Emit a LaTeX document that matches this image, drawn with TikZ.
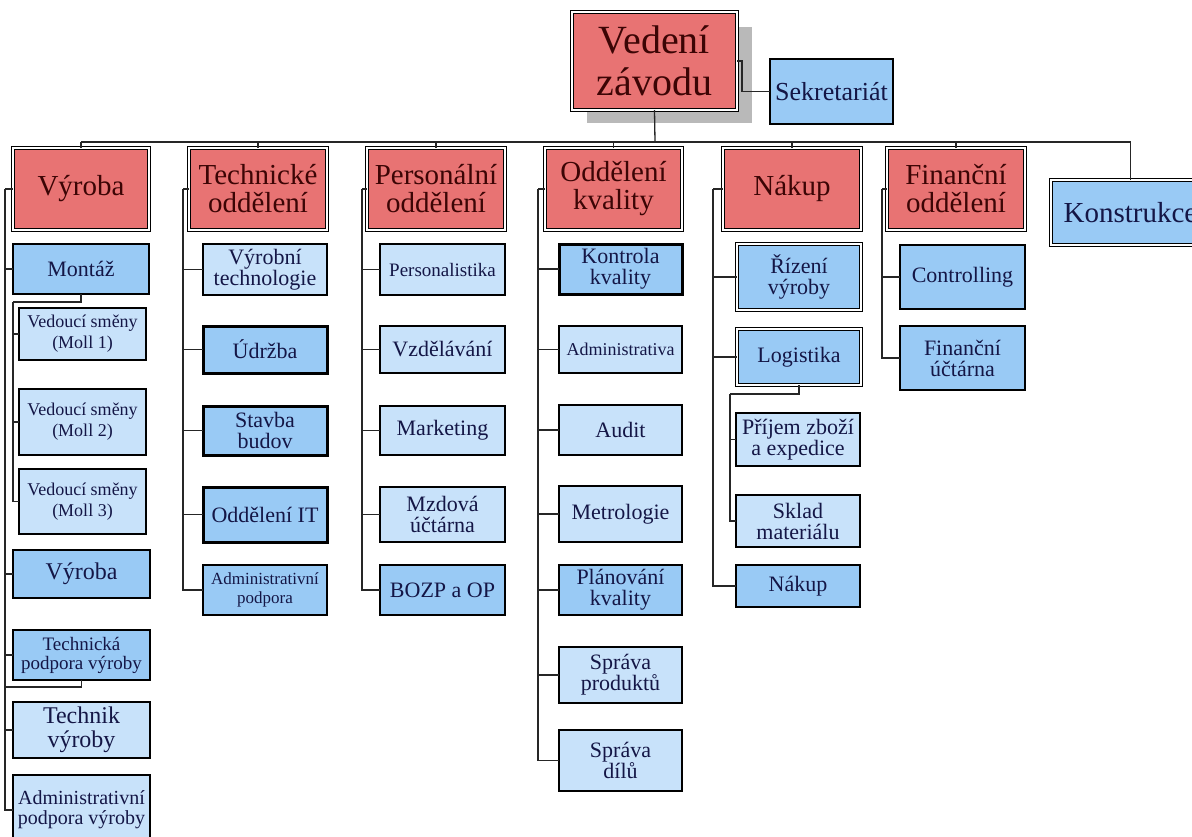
\documentclass[tikz,border=0pt]{standalone}
\usepackage{fontspec}
\setmainfont{Liberation Serif}
\definecolor{redc}{RGB}{232,115,115}
\definecolor{lightb}{RGB}{200,226,250}
\definecolor{medb}{RGB}{153,202,245}
\definecolor{navy}{RGB}{20,22,70}
\definecolor{maroon}{RGB}{60,5,5}
\definecolor{shadowc}{RGB}{185,185,185}
\newcommand\bx[7]{\node[#6, minimum width={(#4)-(#2)}, minimum height={(#5)-(#3)}] (#1) at ({((#2)+(#4))/2},{((#3)+(#5))/2}) {#7};}
\tikzset{
  box/.style={draw=black, line width=1.5pt, inner sep=0pt, outer sep=0pt, align=center, text=navy},
  lb/.style={box, fill=lightb},
  mb/.style={box, fill=medb},
  thickb/.style={line width=3pt},
  dbl/.style={line width=1.2pt, double=white, double distance=1.6pt},
  rb/.style={box, dbl, fill=redc, text=maroon, font=\fontsize{29}{28}\selectfont},
  fA/.style={font=\fontsize{18}{21}\selectfont},
  fB/.style={font=\fontsize{20}{20}\selectfont},
  fC/.style={font=\fontsize{22}{21}\selectfont},
  fD/.style={font=\fontsize{24}{24}\selectfont},
  conn/.style={draw=black!85, line width=1.3pt},
}
\begin{document}
\begin{tikzpicture}[x=1pt,y=-1pt]
\useasboundingbox (0,0) rectangle (1192,836);
\fill[white] (0,0) rectangle (1192,836);
% top
\fill[shadowc] (587,27) rectangle (752,123);
\bx{vz}{572}{12}{737}{110}{rb, font=\fontsize{40}{42}\selectfont}{Vedení\\závodu}
\bx{sek}{770}{59}{893}{124}{mb, font=\fontsize{26}{26}\selectfont}{Sekretariát}
% level 1
\bx{vyr}{13}{148}{149}{230}{rb}{Výroba}
\bx{tech}{189}{148}{327}{230}{rb}{Technické\\oddělení}
\bx{pers}{367}{148}{505}{230}{rb}{Personální\\oddělení}
\bx{kval}{545}{148}{682}{230}{rb}{Oddělení\\kvality}
\bx{nak}{723}{148}{861}{230}{rb}{Nákup}
\bx{fin}{887}{148}{1025}{230}{rb}{Finanční\\oddělení}
\bx{kon}{1051}{180}{1210}{245}{mb, dbl, font=\fontsize{29}{28}\selectfont}{Konstrukce}
% Vyroba column
\bx{montaz}{13}{244}{149}{294}{mb, fC}{Montáž}
\bx{mA}{19}{308}{146}{360}{lb, fA}{Vedoucí směny\\(Moll 1)}
\bx{mB}{19}{389}{146}{455}{lb, fA}{Vedoucí směny\\(Moll 2)}
\bx{mC}{19}{469}{146}{534}{lb, fA}{Vedoucí směny\\(Moll 3)}
\bx{vyrB}{13}{550}{150}{598}{mb, fD}{Výroba}
\bx{tp}{13}{630}{150}{680}{mb, font=\fontsize{19}{19}\selectfont}{Technická\\podpora výroby}
\bx{tv}{13}{702}{150}{758}{lb, fD}{Technik\\výroby}
\bx{apv}{13}{775}{150}{845}{lb, fB}{Administrativní\\podpora výroby}
% Technicke column
\bx{vt}{203}{244}{327}{295}{lb, fC}{Výrobní\\technologie}
\bx{udr}{203}{326}{327}{373}{mb, thickb, fC}{Údržba}
\bx{stb}{203}{406}{327}{455}{mb, thickb, fC}{Stavba\\budov}
\bx{oit}{203}{487}{327}{542}{mb, thickb, fC}{Oddělení IT}
\bx{adp}{203}{565}{327}{615}{mb, font=\fontsize{17}{19}\selectfont}{Administrativní\\podpora}
% Personalni column
\bx{psl}{380}{244}{505}{295}{lb, font=\fontsize{19}{19}\selectfont}{Personalistika}
\bx{vzd}{380}{326}{505}{373}{lb, fC}{Vzdělávání}
\bx{mkt}{380}{406}{505}{455}{lb, fC}{Marketing}
\bx{mzd}{380}{487}{505}{542}{lb, fC}{Mzdová\\účtárna}
\bx{boz}{380}{565}{505}{615}{mb, fC}{BOZP a OP}
% Kvality column
\bx{kk}{559}{244}{682}{294}{mb, thickb, fC}{Kontrola\\kvality}
\bx{adm}{559}{326}{682}{373}{lb, font=\fontsize{18}{19}\selectfont}{Administrativa}
\bx{aud}{559}{405}{682}{455}{lb, fC}{Audit}
\bx{met}{559}{486}{682}{542}{lb, fC}{Metrologie}
\bx{plk}{559}{565}{682}{615}{mb, fC}{Plánování\\kvality}
\bx{spp}{559}{647}{682}{703}{lb, fC}{Správa\\produktů}
\bx{spd}{559}{730}{682}{791}{lb, fC}{Správa\\dílů}
% Nakup column
\bx{riz}{737}{244}{861}{310}{mb, dbl, fC}{Řízení\\výroby}
\bx{log}{737}{329}{861}{385}{mb, dbl, fC}{Logistika}
\bx{pri}{736}{413}{860}{466}{lb, fC}{Příjem zboží\\a expedice}
\bx{skl}{736}{495}{860}{547}{lb, fC}{Sklad\\materiálu}
\bx{nakB}{736}{565}{860}{607}{mb, fC}{Nákup}
% Financni column
\bx{ctr}{900}{245}{1025}{309}{mb, fC}{Controlling}
\bx{fu}{900}{326}{1025}{390}{mb, fC}{Finanční\\účtárna}
% connectors: top
\coordinate (bus) at (655,142);
\coordinate (sekj) at (742,61);
\draw[conn] (vz.south) -- (bus);
\draw[conn] (vyr.north |- bus) -- (kon.north |- bus);
\foreach \n in {vyr,tech,pers,kval,nak,fin,kon} {\draw[conn] (\n.north) -- (\n.north |- bus);}
\draw[conn] (vz.east |- sekj) -- (sekj) |- (sek.west);
% Vyroba column
\coordinate (s1) at (5,189);
\draw[conn] (vyr.west) -- (s1);
\foreach \n in {montaz,vyrB,tp,tv,apv} {\draw[conn] (s1) |- (\n.west);}
\coordinate (mbj) at (13,302);
\draw[conn] (montaz.south) |- (mbj);
\foreach \n in {mA,mB,mC} {\draw[conn] (mbj) |- (\n.west);}
\coordinate (tpe) at (5,687);
\draw[conn] (tp.south) |- (tpe);
% Technicke column
\coordinate (s2) at (183,189);
\draw[conn] (tech.west) -- (s2);
\foreach \n in {vt,udr,stb,oit,adp} {\draw[conn] (s2) |- (\n.west);}
% Personalni
\coordinate (s3) at (362,189);
\draw[conn] (pers.west) -- (s3);
\foreach \n in {psl,vzd,mkt,mzd,boz} {\draw[conn] (s3) |- (\n.west);}
% Kvality
\coordinate (s4) at (538,189);
\draw[conn] (kval.west) -- (s4);
\foreach \n in {kk,adm,aud,met,plk,spp,spd} {\draw[conn] (s4) |- (\n.west);}
% Nakup
\coordinate (s5) at (713,189);
\draw[conn] (nak.west) -- (s5);
\foreach \n in {riz,log,nakB} {\draw[conn] (s5) |- (\n.west);}
\coordinate (lbj) at (730,394);
\draw[conn] (log.south) |- (lbj);
\foreach \n in {pri,skl} {\draw[conn] (lbj) |- (\n.west);}
% Financni
\coordinate (s6) at (882,189);
\draw[conn] (fin.west) -- (s6);
\foreach \n in {ctr,fu} {\draw[conn] (s6) |- (\n.west);}
\end{tikzpicture}
\end{document}
